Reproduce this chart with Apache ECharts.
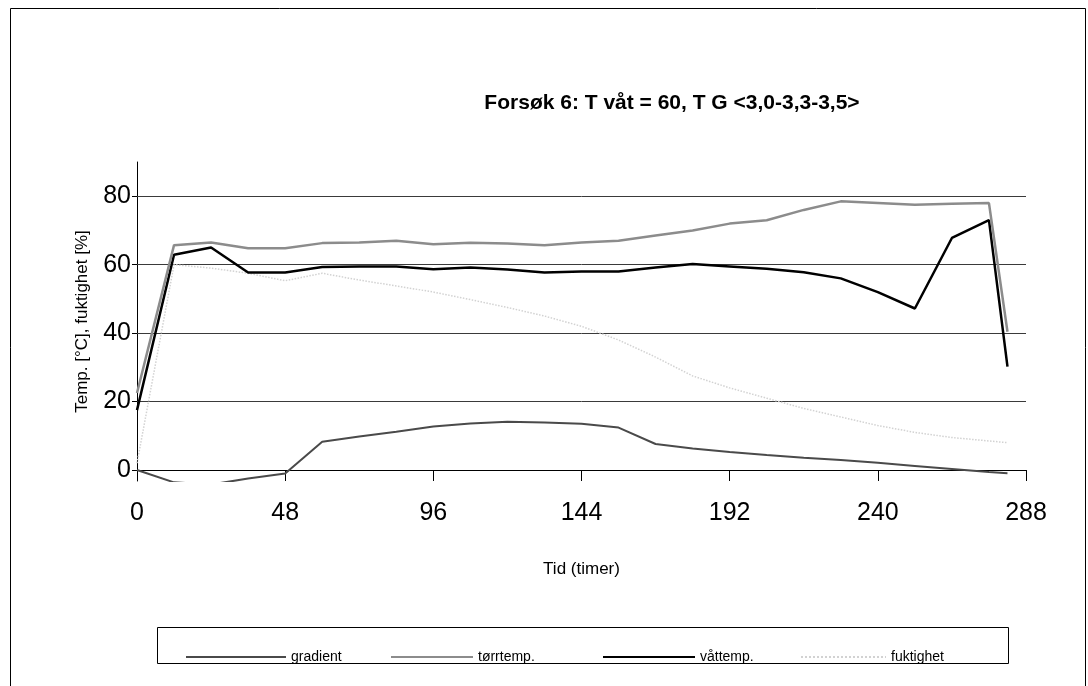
<!DOCTYPE html>
<html>
<head>
<meta charset="utf-8">
<script src="https://cdn.jsdelivr.net/npm/echarts@6/dist/echarts.min.js"></script>
<style>
html,body{margin:0;padding:0;background:#fff;}
#chart{width:1088px;height:686px;}
</style>
</head>
<body>
<div id="chart"></div>
<script>
// ---- data ----
var times = [0,12,24,36,48,60,72,84,96,108,120,132,144,156,168,180,192,204,216,228,240,252,264,276,282];
var gradient = [0,-3.6,-4.2,-2.5,-1,8.3,9.8,11.2,12.7,13.6,14.1,13.9,13.5,12.4,7.6,6.3,5.3,4.4,3.6,2.9,2.1,1.2,0.3,-0.6,-0.9];
var torrtemp = [22.5,65.7,66.5,64.8,64.8,66.3,66.5,67,66,66.4,66.2,65.7,66.5,67,68.5,70,72,73,76,78.5,78,77.5,77.8,78,40.4];
var vattemp = [17.5,62.9,65,57.7,57.7,59.3,59.5,59.5,58.7,59.2,58.6,57.7,58,58,59.2,60.2,59.5,58.8,57.8,56,52,47.2,67.8,73,30.2];
var fuktighet = [2,60,59,57.5,55.3,57.5,55.5,53.8,52,49.8,47.5,45,42,38,33,27.5,24,21,18,15.5,13,11,9.5,8.5,8];
var seriesNames = ['gradient','tørrtemp.','våttemp.','fuktighet'];
var xTicks = [0,48,96,144,192,240,288];
var yTicks = [0,20,40,60,80];
var titleText = 'Forsøk 6: T våt = 60, T G <3,0-3,3-3,5>';
var xName = 'Tid (timer)';
var yName = 'Temp. [°C], fuktighet [%]';

function pairs(vals){ return times.map(function(t,i){ return [t, vals[i]]; }); }

var FONT = 'Liberation Sans, Arial, sans-serif';
var chart = echarts.init(document.getElementById('chart'), null, {renderer:'canvas'});

var styles = [
  {color:'#4a4a4a', width:2, type:'solid'},
  {color:'#8c8c8c', width:2.5, type:'solid'},
  {color:'#000000', width:2.5, type:'solid'},
  {color:'#d2d2d2', width:1.5, type:'dotted'}
];
var dataSets = [gradient, torrtemp, vattemp, fuktighet];

var series = dataSets.map(function(d, i){
  var s = {
    name: seriesNames[i],
    type: 'line',
    data: pairs(d),
    symbol: 'none',
    clip: true,
    z: 10 - i,
    lineStyle: styles[i],
    itemStyle: {color: styles[i].color},
    animation: false
  };
  if (i === 2) {
    s.markLine = {
      silent: true,
      symbol: ['none','none'],
      label: {show:false},
      lineStyle: {color:'#3a3a3a', width:1, type:'solid'},
      data: yTicks.filter(function(v){return v!==0;}).map(function(v){ return {yAxis:v}; }),
      animation: false
    };
  }
  return s;
});

var legendLefts = [180, 385, 597, 795];
var legendWidths = [100, 82, 92, 85];
var legends = seriesNames.map(function(n, i){
  return {
    data: [n],
    left: legendLefts[i],
    top: 645,
    itemWidth: legendWidths[i],
    itemHeight: 14,
    itemGap: 0,
    selectedMode: false,
    itemStyle: {opacity: 0, borderWidth: 0},
    textStyle: {fontFamily: FONT, fontSize: 14, color:'#000'}
  };
});

var xBase = {
  type: 'value',
  min: 0, max: 288, interval: 48
};

chart.setOption({
  animation: false,
  backgroundColor: '#fff',
  title: {
    text: titleText,
    left: 667,
    top: 88,
    textAlign: 'center',
    textStyle: {fontFamily: FONT, fontSize: 21, fontWeight: 'bold', color: '#000'}
  },
  legend: legends,
  grid: {left: 137, right: 62, top: 162, bottom: 205, containLabel: false},
  xAxis: [
    Object.assign({}, xBase, {
      name: xName,
      nameLocation: 'middle',
      nameGap: 80,
      nameTextStyle: {fontFamily: FONT, fontSize: 17, color:'#000'},
      axisLine: {onZero: true, lineStyle: {color:'#000', width:1}},
      axisTick: {show: true, length: 7, inside: false, lineStyle:{color:'#000'}},
      axisLabel: {fontFamily: FONT, fontSize: 25, color:'#000', margin: 20},
      splitLine: {show: false}
    }),
    Object.assign({}, xBase, {
      position: 'bottom',
      axisLine: {show: true, onZero: true, lineStyle: {color:'rgba(0,0,0,0)'}},
      axisTick: {show: true, length: 7, inside: true, lineStyle:{color:'#000'}},
      axisLabel: {show: false},
      splitLine: {show: false}
    })
  ],
  yAxis: {
    type: 'value',
    min: -3.2, max: 90,
    name: yName,
    nameLocation: 'middle',
    nameGap: 46,
    nameTextStyle: {fontFamily: FONT, fontSize: 17, color:'#000'},
    axisLine: {show: true, lineStyle: {color:'#000', width:1}},
    axisTick: {show: true, length: 5, customValues: yTicks, lineStyle:{color:'#000'}},
    axisLabel: {fontFamily: FONT, fontSize: 25, color:'#000', margin: 6, customValues: yTicks},
    splitLine: {show: false}
  },
  graphic: [
    {type:'rect', shape:{x:10.5, y:8.5, width:1075, height:720}, style:{fill:'none', stroke:'#000', lineWidth:1}, silent:true},
    {type:'rect', shape:{x:157.5, y:627.5, width:851, height:36}, style:{fill:'none', stroke:'#000', lineWidth:1}, silent:true}
  ],
  series: series
});
</script>
</body>
</html>
